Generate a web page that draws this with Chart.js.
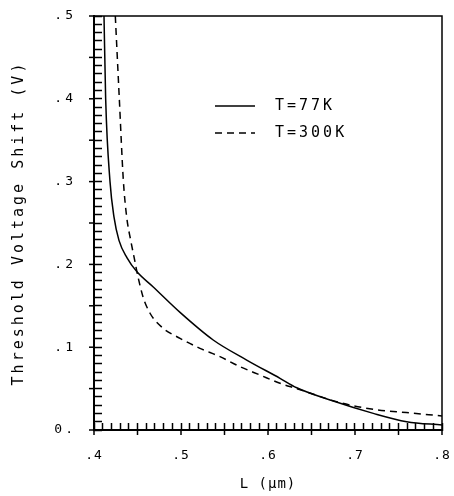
<!DOCTYPE html>
<html>
<head>
<meta charset="utf-8">
<script src="https://cdn.jsdelivr.net/npm/chart.js@4"></script>
<style>
  body { margin: 0; background: #fff; }
  canvas { display: block; }
</style>
</head>
<body>
<canvas id="myChart" width="454" height="496"></canvas>
<script>
// valores
const largo77 = [0.4115, 0.4134, 0.4184, 0.423, 0.4287, 0.438, 0.4494, 0.4678, 0.4989, 0.537, 0.5755, 0.6138, 0.633, 0.675, 0.721, 0.7594, 0.80];
const shift77 = [0.50, 0.40, 0.30, 0.257, 0.229, 0.208, 0.191, 0.173, 0.142, 0.1087, 0.0845, 0.0624, 0.051, 0.035, 0.0201, 0.0101, 0.006];

const largo300 = [0.4245, 0.4291, 0.4337, 0.4376, 0.4422, 0.446, 0.4506, 0.4563, 0.4644, 0.4793, 0.4989, 0.5218, 0.5448, 0.5678, 0.5908, 0.6138, 0.633, 0.6828, 0.721, 0.759, 0.80];
const shift300 = [0.50, 0.40, 0.302, 0.257, 0.229, 0.209, 0.185, 0.161, 0.141, 0.123, 0.1107, 0.0986, 0.0886, 0.0765, 0.0664, 0.0564, 0.050, 0.033, 0.025, 0.021, 0.017];

const nombresSeries = ["T=77K", "T=300K"];
const etiquetasX = [".4", ".5", ".6", ".7", ".8"];
const etiquetasY = ["0.", ".1", ".2", ".3", ".4", ".5"];

Chart.defaults.font.family = "'DejaVu Sans Mono', monospace";
Chart.defaults.color = "#000";

const toPuntos = (xs, ys) => xs.map((x, i) => ({ x: x, y: ys[i] }));

// ticks largos cada .05, marco y leyenda dentro del grafico
const extras = {
    id: "extras",
    beforeDraw(chart) {
        chart.ctx.letterSpacing = "3px";
    },
    afterDatasetsDraw(chart) {
        chart.ctx.letterSpacing = "1px";
    },
    afterDraw(chart) {
        const { ctx, chartArea: a, scales: { x, y } } = chart;
        ctx.save();
        ctx.strokeStyle = "#000";
        ctx.lineWidth = 1.5;
        ctx.strokeRect(a.left, a.top, a.width, a.height);

        x.ticks.forEach((t) => {
            if (Math.round(t.value * 100) % 5 !== 0) return;
            const px = x.getPixelForValue(t.value);
            ctx.beginPath();
            ctx.moveTo(px, a.bottom);
            ctx.lineTo(px, a.bottom + 5);
            ctx.stroke();
        });
        y.ticks.forEach((t) => {
            if (Math.round(t.value * 100) % 5 !== 0) return;
            const py = y.getPixelForValue(t.value);
            ctx.beginPath();
            ctx.moveTo(a.left, py);
            ctx.lineTo(a.left - 5, py);
            ctx.stroke();
        });

        // leyenda
        ctx.letterSpacing = "3px";
        ctx.font = "15px 'DejaVu Sans Mono'";
        ctx.fillStyle = "#000";
        ctx.textAlign = "left";
        ctx.textBaseline = "middle";
        chart.data.datasets.forEach((ds, i) => {
            const ly = a.top + 90 + i * 27;
            const lx = a.left + 121;
            ctx.setLineDash(ds.borderDash || []);
            ctx.lineWidth = ds.borderWidth;
            ctx.beginPath();
            ctx.moveTo(lx, ly);
            ctx.lineTo(lx + 40, ly);
            ctx.stroke();
            ctx.setLineDash([]);
            ctx.fillText(ds.label, lx + 60, ly);
        });
        ctx.restore();
    }
};

new Chart(document.getElementById("myChart"), {
    type: "line",
    data: {
        datasets: [{
            label: nombresSeries[0],
            data: toPuntos(largo77, shift77),
            borderColor: "#000",
            borderWidth: 1.5,
            pointRadius: 0,
            cubicInterpolationMode: "monotone"
        }, {
            label: nombresSeries[1],
            data: toPuntos(largo300, shift300),
            borderColor: "#000",
            borderWidth: 1.5,
            borderDash: [7, 5],
            pointRadius: 0,
            cubicInterpolationMode: "monotone"
        }]
    },
    options: {
        responsive: false,
        animation: false,
        layout: { padding: { top: 16, right: 12, left: 0, bottom: 0 } },
        plugins: { legend: { display: false }, tooltip: { enabled: false } },
        scales: {
            x: {
                type: "linear",
                min: 0.4,
                max: 0.8,
                ticks: {
                    stepSize: 0.01,
                    autoSkip: false,
                    maxRotation: 0,
                    padding: 25,
                    font: { size: 13 },
                    z: 1,
                    callback: (v) => {
                        const k = Math.round(v * 100);
                        return k % 10 === 0 ? etiquetasX[(k - 40) / 10] : "";
                    }
                },
                grid: { drawOnChartArea: false, tickLength: -7, tickWidth: 1.5, tickColor: "#000", z: 1 },
                border: { color: "#000", width: 2, z: 1 },
                title: { display: true, text: "L (µm)", font: { size: 14 }, padding: { top: 0, bottom: 3 } },
                afterFit: (s) => {
                    s.height = 66;
                    s.paddingLeft = 0;
                    s.paddingRight = 0;
                }
            },
            y: {
                min: 0,
                max: 0.5,
                ticks: {
                    stepSize: 0.01,
                    autoSkip: false,
                    padding: 26,
                    font: { size: 13 },
                    callback: (v) => {
                        const k = Math.round(v * 100);
                        return k % 10 === 0 ? etiquetasY[k / 10] : "";
                    }
                },
                grid: { drawOnChartArea: false, tickLength: -8, tickWidth: 1.5, tickColor: "#000" },
                border: { color: "#000", width: 2 },
                title: { display: true, text: "Threshold Voltage Shift (V)", font: { size: 15 }, padding: { top: 10, bottom: 0 } },
                afterFit: (s) => {
                    s.width = 94;
                    s.paddingTop = 0;
                    s.paddingBottom = 0;
                }
            }
        }
    },
    plugins: [extras]
});
</script>
</body>
</html>
